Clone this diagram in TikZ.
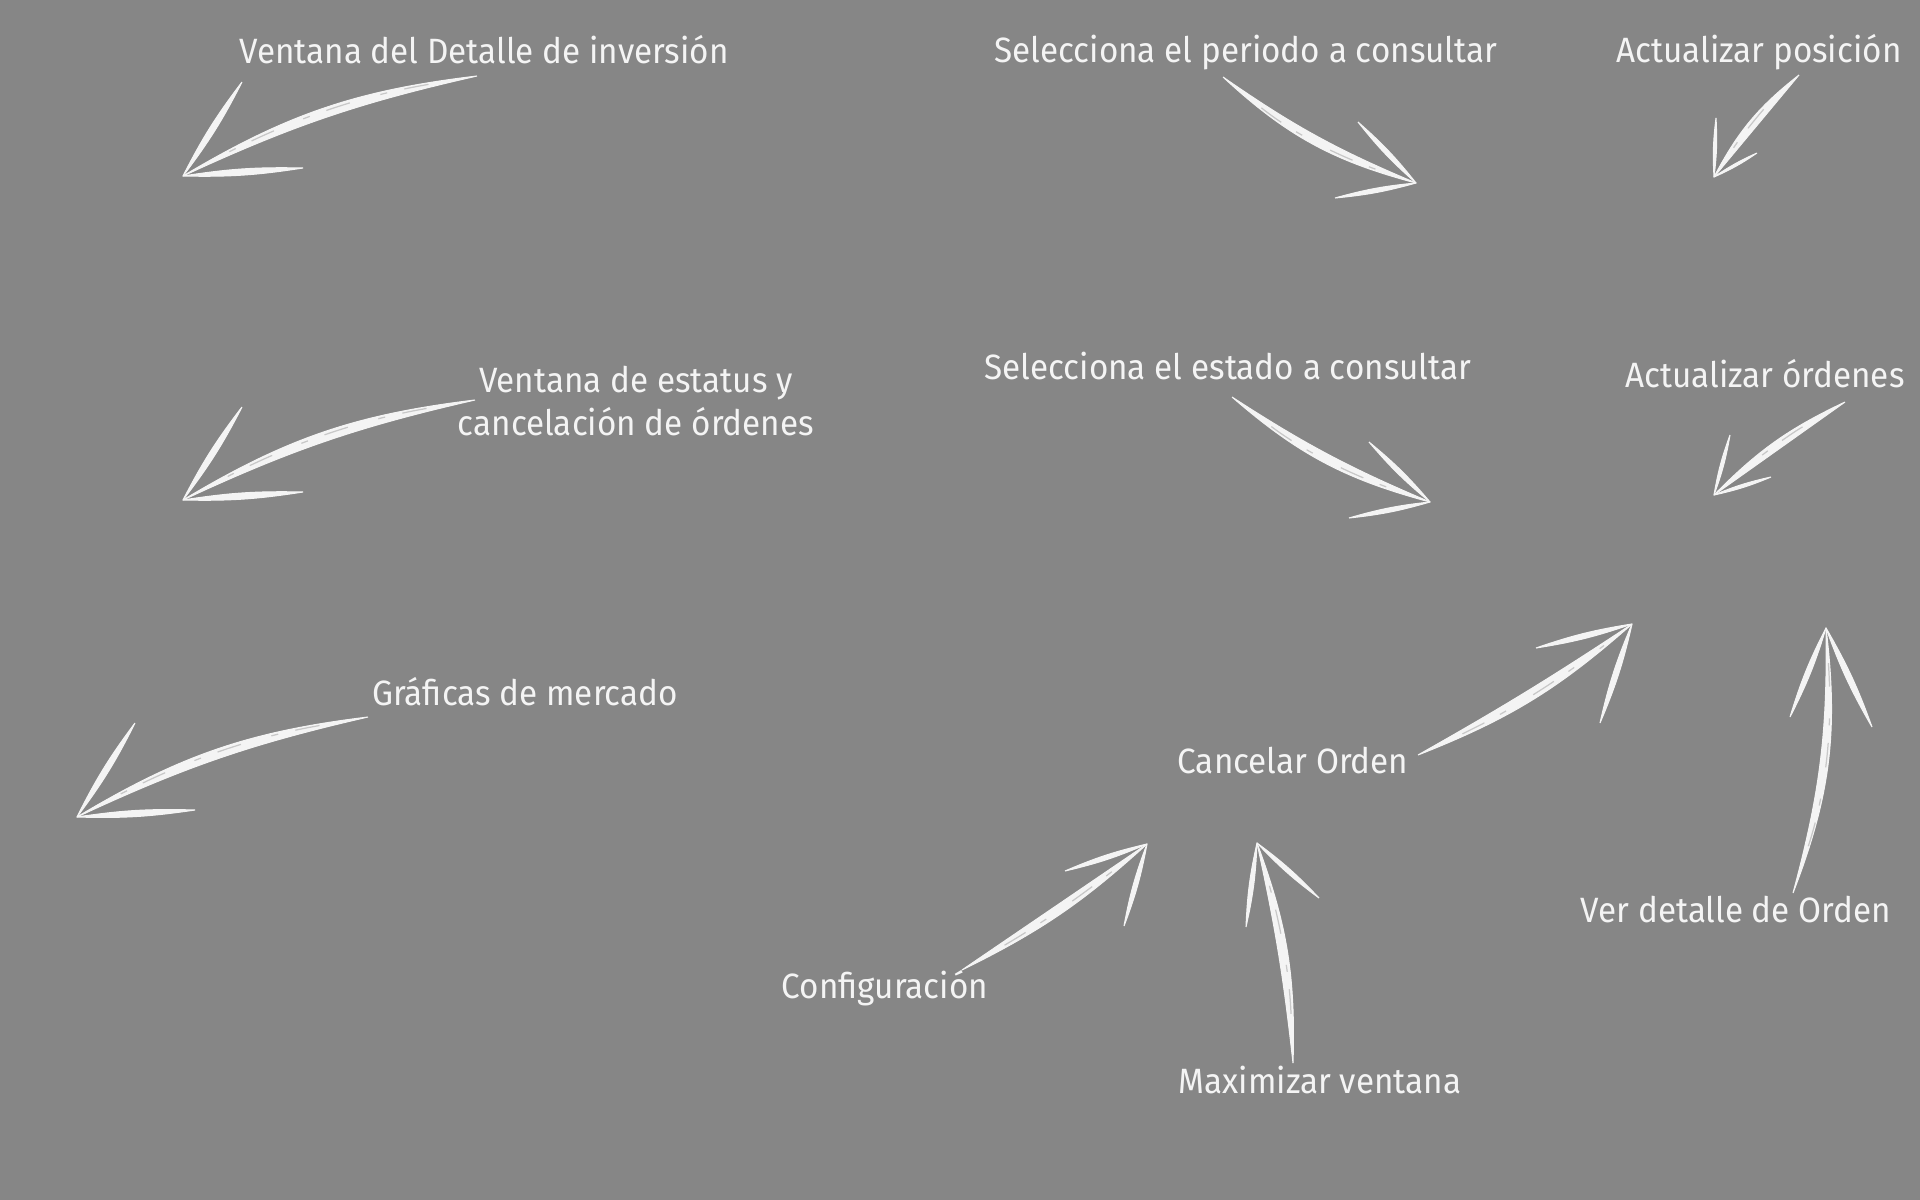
\documentclass[tikz,border=0pt]{standalone}
\usepackage{fontspec}
\setmainfont{Fira Sans}[FakeStretch=0.945]
\definecolor{board}{RGB}{134,134,134}
\definecolor{chalk}{RGB}{244,244,244}
\tikzset{
  note/.style={text=chalk, font=\fontsize{10}{12}\selectfont, anchor=base, inner sep=0pt, align=center},
  chalk/.style={fill=chalk, draw=chalk, line width=0.3pt, line join=round},
  grain/.style={draw=board!40!chalk, line width=0.35pt, dash pattern=on 7pt off 5pt on 2pt off 9pt,
                shorten <=14pt, shorten >=10pt},
}
\begin{document}
\begin{tikzpicture}[x=0.01cm, y=0.01cm]
  \path[use as bounding box, fill=board] (0,0) rectangle (1920,-1200);

  % labels
  \node[note] (vdi)  at (484,-64)   {Ventana del Detalle de inversión};
  \node[note] (per)  at (1246,-63)  {Selecciona el periodo a consultar};
  \node[note] (pos)  at (1759,-63)  {Actualizar posición};
  \node[note] (est)  at (636,-435)  {Ventana de estatus y\\cancelación de órdenes};
  \node[note] (edo)  at (1228,-379) {Selecciona el estado a consultar};
  \node[note] (ord)  at (1765,-387) {Actualizar órdenes};
  \node[note] (graf) at (525,-705)  {Gráficas de mercado};
  \node[note] (canc) at (1293,-773) {Cancelar Orden};
  \node[note] (det)  at (1736,-922) {Ver detalle de Orden};
  \node[note] (conf) at (885,-998)  {Configuración};
  \node[note] (max)  at (1320,-1093) {Maximizar ventana};

  % arrow ends: from-point, tip, two barbs
  \coordinate (vdi-s) at (477,-76);   \coordinate (vdi-t) at (183,-176);
  \coordinate (vdi-a) at (242,-82);   \coordinate (vdi-b) at (303,-168);
  \coordinate (est-s) at (475,-400);  \coordinate (est-t) at (183,-500);
  \coordinate (est-a) at (242,-407);  \coordinate (est-b) at (303,-492);
  \coordinate (graf-s) at (368,-717); \coordinate (graf-t) at (77,-817);
  \coordinate (graf-a) at (135,-723); \coordinate (graf-b) at (195,-810);
  \coordinate (per-s) at (1223,-77);  \coordinate (per-t) at (1416,-183);
  \coordinate (per-a) at (1358,-122); \coordinate (per-b) at (1335,-198);
  \coordinate (pos-s) at (1799,-75);  \coordinate (pos-t) at (1714,-177);
  \coordinate (pos-a) at (1716,-118); \coordinate (pos-b) at (1757,-153);
  \coordinate (edo-s) at (1232,-397); \coordinate (edo-t) at (1430,-502);
  \coordinate (edo-a) at (1369,-442); \coordinate (edo-b) at (1349,-518);
  \coordinate (ord-s) at (1845,-402); \coordinate (ord-t) at (1714,-495);
  \coordinate (ord-a) at (1730,-435); \coordinate (ord-b) at (1771,-477);
  \coordinate (canc-s) at (1418,-755); \coordinate (canc-t) at (1632,-624);
  \coordinate (canc-a) at (1536,-648); \coordinate (canc-b) at (1600,-723);
  \coordinate (det-s) at (1793,-893); \coordinate (det-t) at (1826,-628);
  \coordinate (det-a) at (1790,-717); \coordinate (det-b) at (1872,-727);
  \coordinate (conf-s) at (962,-970); \coordinate (conf-t) at (1147,-844);
  \coordinate (conf-a) at (1065,-871); \coordinate (conf-b) at (1124,-926);
  \coordinate (max-s) at (1293,-1063); \coordinate (max-t) at (1257,-843);
  \coordinate (max-a) at (1246,-927); \coordinate (max-b) at (1319,-898);

  % chalk arrows: tapered shaft, grain streak, two barbs
  \path[chalk] (vdi-s) to[bend right=12] (vdi-t) to[bend left=6] (vdi-s);
  \draw[grain] (vdi-s) to[bend right=9] (vdi-t);
  \path[chalk] (vdi-a) to[bend left=5] (vdi-t) to[bend left=5] (vdi-a)
               (vdi-b) to[bend left=5] (vdi-t) to[bend left=5] (vdi-b);

  \path[chalk] (est-s) to[bend right=12] (est-t) to[bend left=6] (est-s);
  \draw[grain] (est-s) to[bend right=9] (est-t);
  \path[chalk] (est-a) to[bend left=5] (est-t) to[bend left=5] (est-a)
               (est-b) to[bend left=5] (est-t) to[bend left=5] (est-b);

  \path[chalk] (graf-s) to[bend right=12] (graf-t) to[bend left=6] (graf-s);
  \draw[grain] (graf-s) to[bend right=9] (graf-t);
  \path[chalk] (graf-a) to[bend left=5] (graf-t) to[bend left=5] (graf-a)
               (graf-b) to[bend left=5] (graf-t) to[bend left=5] (graf-b);

  \path[chalk] (per-s) to[bend right=14] (per-t) to[bend left=6] (per-s);
  \draw[grain] (per-s) to[bend right=10] (per-t);
  \path[chalk] (per-a) to[bend left=5] (per-t) to[bend left=5] (per-a)
               (per-b) to[bend left=5] (per-t) to[bend left=5] (per-b);

  \path[chalk] (pos-s) to[bend right=12] (pos-t) to[bend left=0] (pos-s);
  \draw[grain] (pos-s) to[bend right=6] (pos-t);
  \path[chalk] (pos-a) to[bend left=5] (pos-t) to[bend left=5] (pos-a)
               (pos-b) to[bend left=5] (pos-t) to[bend left=5] (pos-b);

  \path[chalk] (edo-s) to[bend right=13] (edo-t) to[bend left=5] (edo-s);
  \draw[grain] (edo-s) to[bend right=9] (edo-t);
  \path[chalk] (edo-a) to[bend left=5] (edo-t) to[bend left=5] (edo-a)
               (edo-b) to[bend left=5] (edo-t) to[bend left=5] (edo-b);

  \path[chalk] (ord-s) to[bend right=10] (ord-t) to[bend left=0] (ord-s);
  \draw[grain] (ord-s) to[bend right=5] (ord-t);
  \path[chalk] (ord-a) to[bend left=5] (ord-t) to[bend left=5] (ord-a)
               (ord-b) to[bend left=5] (ord-t) to[bend left=5] (ord-b);

  \path[chalk] (canc-s) to[bend right=10] (canc-t) to[bend left=2] (canc-s);
  \draw[grain] (canc-s) to[bend right=6] (canc-t);
  \path[chalk] (canc-a) to[bend left=5] (canc-t) to[bend left=5] (canc-a)
               (canc-b) to[bend left=5] (canc-t) to[bend left=5] (canc-b);

  \path[chalk] (det-s) to[bend right=14] (det-t) to[bend left=8] (det-s);
  \draw[grain] (det-s) to[bend right=11] (det-t);
  \path[chalk] (det-a) to[bend left=5] (det-t) to[bend left=5] (det-a)
               (det-b) to[bend left=5] (det-t) to[bend left=5] (det-b);

  \path[chalk] (conf-s) to[bend right=8] (conf-t) to[bend left=0] (conf-s);
  \draw[grain] (conf-s) to[bend right=4] (conf-t);
  \path[chalk] (conf-a) to[bend left=5] (conf-t) to[bend left=5] (conf-a)
               (conf-b) to[bend left=5] (conf-t) to[bend left=5] (conf-b);

  \path[chalk] (max-s) to[bend right=11] (max-t) to[bend left=3] (max-s);
  \draw[grain] (max-s) to[bend right=7] (max-t);
  \path[chalk] (max-a) to[bend left=5] (max-t) to[bend left=5] (max-a)
               (max-b) to[bend left=5] (max-t) to[bend left=5] (max-b);
\end{tikzpicture}
\end{document}
